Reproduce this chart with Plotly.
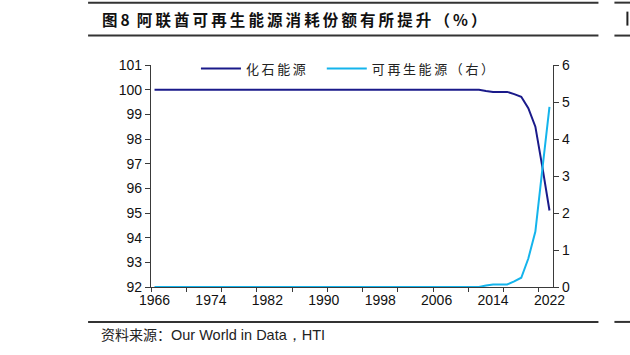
import plotly.graph_objects as go

years = list(range(1966, 2023))
fossil_tail = {2012: 100.0, 2013: 99.95, 2014: 99.91, 2015: 99.91, 2016: 99.91,
               2017: 99.82, 2018: 99.71, 2019: 99.25, 2020: 98.5, 2021: 96.85, 2022: 95.1}
renew_tail = {2012: 0.0, 2013: 0.04, 2014: 0.07, 2015: 0.07, 2016: 0.07,
              2017: 0.15, 2018: 0.25, 2019: 0.77, 2020: 1.5, 2021: 3.2, 2022: 4.87}
fossil = [fossil_tail.get(y, 100.0) for y in years]
renew = [renew_tail.get(y, 0.0) for y in years]
xlabels = list(range(1966, 2023, 8))
xminor = [1965.5 + 5 * k for k in range(12)]

CJK = "Noto Sans CJK SC"
LAT = "Liberation Sans"
AX = "#3a3a3a"
TS = "\u2009"


def spaced(s):
    return TS.join(list(s))


fig = go.Figure()
fig.add_trace(go.Scatter(x=years, y=fossil, name=spaced("化石能源"), mode="lines",
                         line=dict(color="#1a1a8a", width=2), yaxis="y", legend="legend"))
fig.add_trace(go.Scatter(x=years, y=renew, name=spaced("可再生能源（右）"), mode="lines",
                         line=dict(color="#14b4ec", width=2), yaxis="y2", legend="legend2"))

W, H = 630, 355
L, R, T, B = 151, 553.5, 64.5, 287


def px_to_paper_x(px):
    return (px - L) / (R - L)


def px_to_paper_y(py):
    return (B - py) / (B - T)


leg_common = dict(orientation="h", xanchor="left", yanchor="middle",
                  y=px_to_paper_y(68),
                  font=dict(family=CJK, size=13, color="#222"),
                  bgcolor="rgba(0,0,0,0)", itemwidth=40)

fig.update_layout(
    width=W, height=H,
    margin=dict(l=L, r=W - R, t=T, b=H - B, autoexpand=False),
    paper_bgcolor="white", plot_bgcolor="white",
    showlegend=True,
    legend=dict(x=px_to_paper_x(196), **leg_common),
    legend2=dict(x=px_to_paper_x(322), **leg_common),
    xaxis=dict(range=[1965.5, 2022.5], tickvals=xlabels, ticktext=[str(v) for v in xlabels],
               ticks="", showgrid=False, zeroline=False,
               showline=True, linecolor=AX, linewidth=1.3,
               tickfont=dict(family=LAT, size=14, color="#111"),
               minor=dict(tickvals=xminor, ticks="outside", ticklen=4, tickcolor=AX, showgrid=False)),
    yaxis=dict(range=[92, 101], dtick=1, tick0=92, ticks="outside", ticklen=5, tickcolor=AX,
               showgrid=False, zeroline=False, showline=True, linecolor=AX, linewidth=1.3,
               tickfont=dict(family=LAT, size=14, color="#111")),
    yaxis2=dict(range=[0, 6], dtick=1, tick0=0, overlaying="y", side="right",
                ticks="outside", ticklen=5, tickcolor=AX,
                showgrid=False, zeroline=False, showline=True, linecolor=AX, linewidth=1.3,
                tickfont=dict(family=LAT, size=14, color="#111")),
)

shapes = []
for y in (2, 35, 322):
    for x0, x1 in ((88, 599), (615, 632)):
        shapes.append(dict(type="line", xref="paper", yref="paper",
                           x0=px_to_paper_x(x0), x1=px_to_paper_x(x1),
                           y0=px_to_paper_y(y), y1=px_to_paper_y(y),
                           line=dict(color="#333", width=2)))
# fragment of the neighbouring chart's title glyph at the right edge
shapes.append(dict(type="line", xref="paper", yref="paper",
                   x0=px_to_paper_x(628), x1=px_to_paper_x(628),
                   y0=px_to_paper_y(11), y1=px_to_paper_y(25),
                   line=dict(color="#222", width=2)))
fig.update_layout(shapes=shapes)

fig.add_annotation(xref="paper", yref="paper", x=px_to_paper_x(100), y=px_to_paper_y(18),
                   xanchor="left", yanchor="middle", showarrow=False,
                   text="<b>" + spaced("图8") + "  " + spaced("阿联酋可再生能源消耗份额有所提升（%）") + "</b>",
                   font=dict(family=CJK, size=15.5, color="#111"))
fig.add_annotation(xref="paper", yref="paper", x=px_to_paper_x(99), y=px_to_paper_y(334),
                   xanchor="left", yanchor="middle", showarrow=False,
                   text="资料来源：<span style='font-family:Liberation Sans;font-size:14.5px'>Our World in Data，HTI</span>",
                   font=dict(family=CJK, size=14, color="#222"))

fig.write_html("out.html")
